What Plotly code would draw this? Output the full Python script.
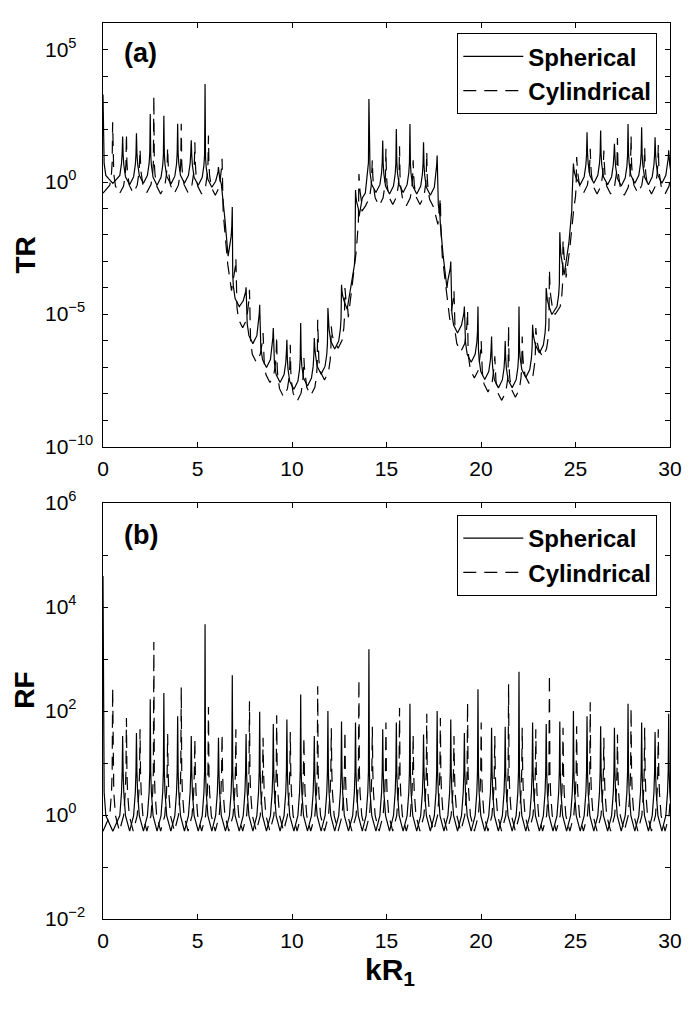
import plotly.graph_objects as go

# resonance positions (kR1), same in both panels
sph_peak_kr = [0.0, 1.04, 1.77, 2.50, 3.22, 3.95, 4.67, 5.40, 6.11, 6.84, 7.57, 8.29, 9.01, 9.73,
               10.46, 11.18, 11.90, 12.62, 13.36, 14.07, 14.80, 15.52, 16.24, 16.96, 17.68, 18.40,
               19.12, 19.84, 20.56, 21.28, 22.01, 22.73, 23.45, 24.17, 24.89, 25.61, 26.33, 27.06,
               27.78, 28.50, 29.21, 29.93]
cyl_peak_kr = [0.51, 1.24, 1.96, 2.69, 3.42, 4.14, 4.86, 5.58, 6.30, 7.03, 7.75, 8.47, 9.19, 9.91,
               10.63, 11.36, 12.08, 12.80, 13.54, 14.25, 14.97, 15.69, 16.41, 17.13, 17.85, 18.57,
               19.29, 20.01, 20.73, 21.46, 22.18, 22.90, 23.62, 24.34, 25.06, 25.78, 26.50, 27.22,
               27.94, 28.66, 29.38, 30.10]

# panel (a) TR, log10 values
tr_sph_peak = [3.3, 1.72, 1.84, 2.57, 2.50, 2.20, 1.57, 3.70, 0.56, -0.94, -3.97, -4.63, -5.51, -5.95,
               -5.32, -5.89, -4.76, -3.88, -0.3, 3.13, 1.57, 2.00, 2.19, 1.50, 1.00, -3.0,
               -4.7, -4.7, -5.83, -6.0, -4.7, -5.39, -4.0, -1.9, 0.7, 1.88, 1.94, 1.44,
               2.19, 2.07, 1.69, 1.2]
tr_cyl_peak = [2.25, 1.82, 1.25, 3.26, 1.3, 2.2, 1.5, 1.75, 0.88, -2.88, -4.07, -5.7, -5.83, -6.14,
               -6.64, -5.2, -5.45, -4.0, 0.3, 0.82, 1.25, 1.35, 0.82, 1.13, -0.6, -4.1,
               -4.85, -6.0, -6.58, -5.45, -5.83, -5.51, -3.32, -2.2, 0.94, 1.25, 1.19, 1.66,
               1.75, 1.3, 1.4, 1.5]
tr_sph_trough_kr = [0.52, 1.41, 2.14, 2.86, 3.59, 4.31, 5.04, 5.76, 6.30, 6.45, 6.62, 7.21, 7.93, 8.65,
                    9.37, 10.10, 10.82, 11.54, 12.26, 12.92, 13.12, 13.55, 13.72, 13.88, 14.44, 15.16,
                    15.88, 16.60, 17.32, 17.85, 18.00, 18.20, 18.76, 19.48, 20.20, 20.92, 21.65, 22.37,
                    23.09, 23.75, 24.40, 24.65, 24.80, 25.25, 25.97, 26.70, 27.42, 28.14, 28.86, 29.57,
                    30.29]
tr_sph_trough = [-0.05, -0.10, -0.05, -0.12, -0.08, -0.05, -0.12, -0.20, -0.35, -1.4, -2.8, -4.7, -6.1, -7.0,
                 -7.57, -7.82, -7.7, -7.25, -6.3, -4.8, -3.9, -1.3, -0.6, -0.42, -0.40, -0.45,
                 -0.40, -0.45, -0.50, -1.6, -2.8, -4.0, -5.7, -6.8, -7.45, -7.77, -7.76, -7.38,
                 -6.45, -5.0, -3.5, -2.3, -1.1, -0.10, -0.05, -0.10, -0.15, -0.05, -0.10, -0.05,
                 -0.05]
tr_cyl_trough_kr = [0.0, 0.87, 1.60, 2.32, 3.05, 3.78, 4.50, 5.22, 5.94, 6.45, 6.60, 6.80, 7.39, 8.11,
                    8.83, 9.55, 10.27, 10.99, 11.72, 12.44, 12.98, 13.20, 13.40, 13.70, 13.89, 14.61,
                    15.33, 16.05, 16.77, 17.49, 17.72, 17.95, 18.35, 18.93, 19.65, 20.37, 21.09, 21.82,
                    22.54, 23.26, 23.92, 24.50, 24.70, 24.85, 25.42, 26.14, 26.86, 27.58, 28.30, 29.02,
                    29.74]
tr_cyl_trough = [-0.42, -0.45, -0.42, -0.40, -0.45, -0.42, -0.40, -0.45, -0.50, -1.9, -3.1, -4.1, -5.5, -6.8,
                 -7.57, -8.1, -8.27, -8.05, -7.47, -6.27, -5.1, -3.8, -2.6, -1.1, -0.9, -0.90,
                 -0.85, -0.90, -0.85, -0.95, -1.6, -2.8, -5.2, -6.4, -7.4, -7.92, -8.24, -8.12,
                 -7.6, -6.6, -5.0, -3.6, -2.5, -1.3, -0.42, -0.45, -0.45, -0.50, -0.42, -0.45,
                 -0.45]

# panel (b) RF, log10 values
rf_sph_peak = [4.6, 1.52, 1.58, 2.23, 2.35, 1.90, 1.52, 3.67, 1.49, 2.69, 1.56, 1.99, 1.75, 1.84,
               2.32, 1.52, 2.00, 1.80, 1.78, 3.19, 1.65, 1.78, 2.14, 1.55, 2.00, 1.84,
               1.58, 2.42, 1.68, 1.70, 2.76, 1.78, 1.75, 1.80, 2.00, 1.90, 1.71, 1.68,
               2.14, 1.78, 1.60, 1.95]
rf_cyl_peak = [2.45, 1.87, 1.65, 3.33, 1.56, 2.46, 1.46, 2.08, 1.56, 1.65, 2.19, 1.49, 1.92, 1.60,
               1.50, 2.48, 1.67, 1.62, 2.61, 1.70, 1.78, 2.06, 1.55, 1.95, 1.87, 1.52,
               2.17, 1.78, 1.52, 2.52, 1.68, 1.65, 2.71, 1.68, 1.71, 2.17, 1.49, 1.55,
               2.06, 1.68, 1.65, 1.70]
rf_sph_trough_kr = [0.52, 1.41, 2.14, 2.86, 3.59, 4.31, 5.04, 5.76, 6.48, 7.21, 7.93, 8.65, 9.37, 10.10,
                    10.82, 11.54, 12.26, 12.99, 13.72, 14.44, 15.16, 15.88, 16.60, 17.32, 18.04, 18.76,
                    19.48, 20.20, 20.92, 21.65, 22.37, 23.09, 23.81, 24.53, 25.25, 25.97, 26.70, 27.42,
                    28.14, 28.86, 29.57, 30.29]
rf_sph_trough = [-0.31, -0.31, -0.31, -0.31, -0.31, -0.31, -0.31, -0.31, -0.31, -0.31, -0.31, -0.31, -0.31, -0.31,
                 -0.31, -0.31, -0.31, -0.31, -0.31, -0.31, -0.31, -0.31, -0.31, -0.31, -0.31, -0.31,
                 -0.31, -0.31, -0.31, -0.31, -0.31, -0.31, -0.31, -0.31, -0.31, -0.31, -0.31, -0.31,
                 -0.31, -0.31, -0.31, -0.31]
rf_cyl_trough_kr = [0.0, 0.87, 1.60, 2.32, 3.05, 3.78, 4.50, 5.22, 5.94, 6.66, 7.39, 8.11, 8.83, 9.55,
                    10.27, 10.99, 11.72, 12.44, 13.17, 13.89, 14.61, 15.33, 16.05, 16.77, 17.49, 18.21,
                    18.93, 19.65, 20.37, 21.09, 21.82, 22.54, 23.26, 23.98, 24.70, 25.42, 26.14, 26.86,
                    27.58, 28.30, 29.02, 29.74]
rf_cyl_trough = [-0.31, -0.31, -0.31, -0.31, -0.31, -0.31, -0.31, -0.31, -0.31, -0.31, -0.31, -0.31, -0.31, -0.31,
                 -0.31, -0.31, -0.31, -0.31, -0.31, -0.31, -0.31, -0.31, -0.31, -0.31, -0.31, -0.31,
                 -0.31, -0.31, -0.31, -0.31, -0.31, -0.31, -0.31, -0.31, -0.31, -0.31, -0.31, -0.31,
                 -0.31, -0.31, -0.31, -0.31]

# how a resonance rises out of the floor next to its top (kR1 offset, decades)
cusp_dx = [0.15, 0.06, 0.025]
cusp_rise = [0.3, 0.75, 1.15]
cusp_frac = [0.3, 0.55, 0.75]

x_ticks = [0, 5, 10, 15, 20, 25, 30]
tr_label_exp = [-10, -5, 0, 5]
rf_label_exp = [-2, 0, 2, 4, 6]


def resonance_line(peak_x, peak_y, trough_x, trough_y):
    pts = sorted([(x, y, 1) for x, y in zip(peak_x, peak_y)] +
                 [(x, y, 0) for x, y in zip(trough_x, trough_y)])
    xs, ys = [], []
    for i, (x, y, is_peak) in enumerate(pts):
        if not is_peak:
            xs.append(x)
            ys.append(y)
            continue
        if i > 0 and not pts[i - 1][2]:
            tx, ty = pts[i - 1][0], pts[i - 1][1]
            for dx, rise, frac in zip(cusp_dx, cusp_rise, cusp_frac):
                if x - dx > tx:
                    xs.append(x - dx)
                    ys.append(ty + min(rise, (y - ty) * frac))
        xs.append(x)
        ys.append(y)
        if i + 1 < len(pts) and not pts[i + 1][2]:
            tx, ty = pts[i + 1][0], pts[i + 1][1]
            for dx, rise, frac in reversed(list(zip(cusp_dx, cusp_rise, cusp_frac))):
                if x + dx < tx:
                    xs.append(x + dx)
                    ys.append(ty + min(rise, (y - ty) * frac))
    return xs, [10 ** v for v in ys]


def sup(e):
    return '10<sup>' + str(e).replace('-', '\u2212') + '</sup>'


font = 'Liberation Sans, Arial, Helvetica, sans-serif'
solid = dict(color='black', width=1.2)
dashed = dict(color='black', width=1.2, dash='13px,8px')

fig = go.Figure()
for name, line, args, xa, ya, lg in [
        ('Spherical', solid, (sph_peak_kr, tr_sph_peak, tr_sph_trough_kr, tr_sph_trough), 'x', 'y', 'legend'),
        ('Cylindrical', dashed, (cyl_peak_kr, tr_cyl_peak, tr_cyl_trough_kr, tr_cyl_trough), 'x', 'y', 'legend'),
        ('Spherical', solid, (sph_peak_kr, rf_sph_peak, rf_sph_trough_kr, rf_sph_trough), 'x2', 'y2', 'legend2'),
        ('Cylindrical', dashed, (cyl_peak_kr, rf_cyl_peak, rf_cyl_trough_kr, rf_cyl_trough), 'x2', 'y2', 'legend2')]:
    xs, ys = resonance_line(*args)
    fig.add_trace(go.Scatter(x=xs, y=ys, mode='lines', line=line, name='<b>' + name + '</b>',
                             xaxis=xa, yaxis=ya, legend=lg))

axis = dict(showline=True, linecolor='black', linewidth=1, mirror='ticks', ticks='inside',
            ticklen=5, tickcolor='black', showgrid=False, zeroline=False, automargin=False)
legend = dict(x=0.9776, xanchor='right', yanchor='top', bordercolor='black', borderwidth=1,
              bgcolor='white', font=dict(size=24, family=font), itemwidth=60, tracegroupgap=0)

top_dom = [0.5268, 1.0]
bot_dom = [0.0, 0.464]
fig.update_layout(
    width=676, height=999, margin=dict(l=95, r=14, t=15, b=88),
    plot_bgcolor='white', paper_bgcolor='white',
    font=dict(family=font, color='black', size=21),
    xaxis=dict(domain=[0, 1], anchor='y', range=[0, 30], tickvals=x_ticks, tickfont=dict(size=21),
               ticklabelstandoff=3, **axis),
    yaxis=dict(domain=top_dom, anchor='x', type='log', range=[-10, 6],
               tickvals=[10 ** k for k in range(-10, 7)], showticklabels=False, **axis),
    xaxis2=dict(domain=[0, 1], anchor='y2', range=[0, 30], tickvals=x_ticks, tickfont=dict(size=21),
                ticklabelstandoff=3, **axis),
    yaxis2=dict(domain=bot_dom, anchor='x2', type='log', range=[-2, 6],
                tickvals=[10 ** k for k in range(-2, 7)], showticklabels=False, **axis),
    legend=dict(y=0.9885, **legend),
    legend2=dict(y=0.4509, **legend),
    showlegend=True,
)

lab_x = (43 - 103) / 567
for ya, exps in [('y', tr_label_exp), ('y2', rf_label_exp)]:
    for e in exps:
        fig.add_annotation(x=lab_x, xref='paper', xanchor='left', y=e, yref=ya, yanchor='middle',
                           text=sup(e), showarrow=False, font=dict(size=21), yshift=2)

title_x = (25 - 103) / 567
fig.add_annotation(x=title_x, xref='paper', xanchor='center', y=(top_dom[0] + top_dom[1]) / 2,
                   yref='paper', text='<b>TR</b>', textangle=-90, showarrow=False, font=dict(size=28))
fig.add_annotation(x=title_x, xref='paper', xanchor='center', y=(bot_dom[0] + bot_dom[1]) / 2,
                   yref='paper', text='<b>RF</b>', textangle=-90, showarrow=False, font=dict(size=28))
fig.add_annotation(x=0.506, xref='paper', xanchor='center', y=-(951 - 919) / 896, yref='paper',
                   yanchor='top', text='<b>kR<sub>1</sub></b>', showarrow=False, font=dict(size=30))
fig.add_annotation(x=0.0335, xref='paper', xanchor='left', y=0.9665, yref='paper', yanchor='middle',
                   text='<b>(a)</b>', showarrow=False, font=dict(size=27))
fig.add_annotation(x=0.0335, xref='paper', xanchor='left', y=0.4286, yref='paper', yanchor='middle',
                   text='<b>(b)</b>', showarrow=False, font=dict(size=27))

fig.write_html("out.html")
